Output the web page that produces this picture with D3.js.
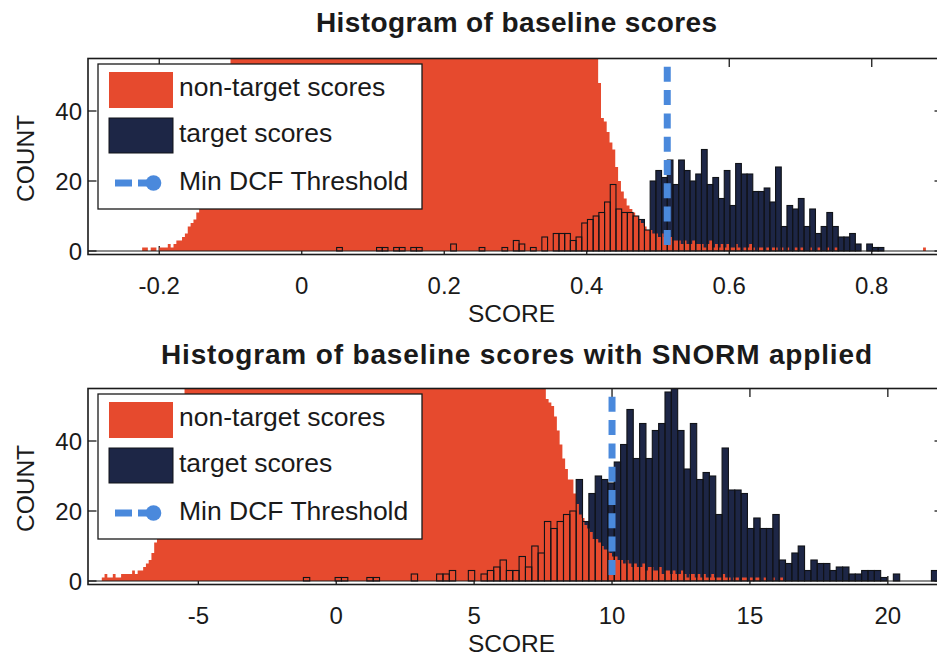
<!DOCTYPE html>
<html>
<head>
<meta charset="utf-8">
<script src="https://cdn.jsdelivr.net/npm/d3@7"></script>
<style>
  html, body { margin: 0; padding: 0; background: #ffffff; }
  svg { display: block; }
  text { font-family: "Liberation Sans", Arial, Helvetica, sans-serif; fill: #1a1a1a; }
</style>
</head>
<body>
<svg id="chart" width="937" height="659"></svg>
<script>
// ---------------- data ----------------
const titles = ["Histogram of baseline scores", "Histogram of baseline scores with SNORM applied"];
const legendLabels = ["non-target scores", "target scores", "Min DCF Threshold"];
const xLabel = "SCORE";
const yLabel = "COUNT";

const yTicks = [0, 20, 40];
const topXTicks = [-0.2, 0, 0.2, 0.4, 0.6, 0.8];
const botXTicks = [-5, 0, 5, 10, 15, 20];

// raw scores: bins start at *Start, each *Width wide
const topNonTargetStart = -0.232, topNonTargetWidth = 0.004;
const topNonTarget = [
  0, 0, 1, 1, 0, 1, 1, 0, 1, 1,
  1, 2, 1, 2, 3, 3, 4, 5, 7, 8,
  9, 11, 13, 15, 18, 21, 24, 27, 31, 35,
  40, 45, 51, 57, 63, 69, 75, 82, 89, 96,
  104, 112, 120, 128, 136, 144, 152, 160, 168, 175,
  182, 189, 196, 202, 208, 214, 219, 224, 229, 233,
  237, 241, 244, 247, 250, 252, 254, 256, 257, 258,
  259, 260, 260, 261, 260, 260, 259, 258, 257, 256,
  254, 252, 250, 248, 245, 242, 239, 236, 232, 228,
  224, 220, 216, 211, 206, 201, 196, 191, 186, 180,
  175, 169, 164, 158, 153, 147, 142, 136, 131, 126,
  121, 116, 111, 107, 103, 99, 95, 92, 89, 86,
  83, 80, 78, 76, 74, 72, 70, 68, 67, 66,
  65, 64, 63, 63, 62, 62, 61, 61, 60, 60,
  60, 59, 59, 59, 58, 58, 58, 58, 57, 57,
  57, 57, 57, 56, 56, 56, 56, 56, 56, 56,
  56, 56, 48, 38, 37, 34, 31, 29, 24, 20,
  17, 15, 13, 12, 11, 10, 9, 8, 7, 6,
  6, 5, 5, 4, 5, 4, 3, 4, 3, 3,
  3, 2, 3, 2, 2, 3, 2, 2, 2, 1,
  2, 3, 1, 2, 1, 2, 1, 2, 1, 1,
  2, 1, 0, 1, 1, 2, 1, 0, 1, 1,
  0, 1, 0, 1, 1, 0, 1, 0, 1, 0,
  0, 1, 0, 1, 0, 0, 1, 0, 0, 1,
  0, 0, 1, 0, 0, 1, 0, 0, 0, 0,
  0, 0, 0, 0, 0, 0, 0, 0, 0, 0,
  0, 0, 0, 0, 0, 0, 0, 0, 0, 0,
  0, 0, 0, 0, 0, 0, 1, 0
];

const topTargetStart = 0.049, topTargetWidth = 0.008;
const topTarget = [
  1, 0, 0, 0, 0, 0, 0, 1, 1, 0,
  1, 1, 0, 1, 1, 0, 0, 0, 0, 0,
  2, 0, 0, 0, 0, 1, 0, 0, 0, 1,
  0, 3, 2, 0, 1, 0, 4, 0, 5, 5,
  5, 3, 4, 8, 9, 10, 11, 14, 19, 12,
  11, 11, 10, 9, 6, 20, 23, 21, 26, 19,
  26, 23, 20, 22, 29, 19, 21, 15, 23, 13,
  25, 22, 22, 17, 17, 18, 14, 24, 7, 13,
  12, 15, 7, 12, 5, 7, 11, 7, 4, 4,
  5, 2, 0, 2, 1, 1
];

// SNORM-normalised scores
const botNonTargetStart = -8.6, botNonTargetWidth = 0.1;
const botNonTarget = [
  0, 1, 2, 1, 1, 2, 1, 1, 2, 2,
  2, 2, 3, 2, 3, 3, 4, 5, 6, 8,
  11, 13, 16, 19, 22, 26, 30, 34, 39, 44,
  50, 56, 62, 68, 74, 80, 86, 92, 98, 104,
  110, 116, 122, 128, 134, 140, 146, 152, 157, 162,
  167, 172, 176, 180, 184, 187, 190, 193, 195, 197,
  199, 200, 201, 202, 202, 203, 203, 203, 202, 202,
  201, 200, 199, 197, 195, 193, 191, 188, 185, 182,
  179, 176, 172, 168, 164, 160, 156, 152, 148, 144,
  140, 136, 132, 128, 124, 120, 116, 112, 108, 105,
  102, 99, 96, 93, 90, 88, 86, 84, 82, 80,
  78, 76, 74, 73, 72, 71, 70, 69, 68, 67,
  66, 65, 64, 64, 63, 63, 62, 62, 61, 61,
  60, 60, 60, 59, 59, 59, 58, 58, 58, 58,
  57, 57, 57, 57, 57, 57, 56, 56, 56, 56,
  56, 56, 56, 56, 56, 56, 56, 56, 56, 56,
  56, 56, 52, 51, 50, 47, 43, 39, 35, 32,
  29, 29, 25, 22, 19, 18, 16, 15, 14, 12,
  12, 11, 10, 9, 9, 8, 7, 7, 6, 6,
  5, 6, 5, 4, 5, 4, 4, 5, 3, 4,
  4, 3, 3, 4, 2, 3, 3, 2, 3, 2,
  2, 3, 2, 1, 2, 2, 1, 2, 1, 2,
  1, 1, 2, 1, 1, 1, 2, 1, 1, 0,
  1, 1, 0, 1, 1, 0, 1, 0, 1, 1,
  0, 1, 0, 0, 1, 0, 0, 1, 0, 0
];

const botTargetStart = -1.19, botTargetWidth = 0.23;
const botTarget = [
  1, 0, 0, 0, 0, 1, 1, 0, 0, 0,
  1, 1, 0, 0, 0, 0, 0, 2, 0, 0,
  0, 2, 2, 3, 0, 0, 3, 0, 2, 3,
  4, 6, 3, 3, 7, 4, 10, 8, 17, 15,
  17, 19, 20, 29, 17, 25, 30, 29, 28, 34,
  39, 49, 35, 45, 35, 43, 45, 54, 57, 43,
  32, 45, 29, 31, 30, 19, 38, 26, 26, 25,
  15, 18, 15, 15, 19, 6, 5, 8, 10, 3,
  6, 5, 5, 3, 4, 4, 2, 2, 3, 3,
  3, 1, 0, 2, 0, 0, 0, 0, 0, 3
];

const minDcfThresholds = [0.513, 10.0];

// ---------------- layout ----------------
const W = 937, H = 659;
const plotL = 88, plotR = 943;
const plotH = 196;
const colors = { nonTarget: "#e64a2e", target: "#1d2646", edge: "#111318", threshold: "#4a89dc", ink: "#1a1a1a" };

const panels = [
  { title: titles[0], titleLen: 401, titleY: 32, top: 58.5, xDomain: [-0.3, 0.9], xTicks: topXTicks,
    nonTarget: { start: topNonTargetStart, width: topNonTargetWidth, counts: topNonTarget },
    target: { start: topTargetStart, width: topTargetWidth, counts: topTarget },
    threshold: minDcfThresholds[0] },
  { title: titles[1], titleLen: 711, titleY: 364, top: 388.5, xDomain: [-9, 22], xTicks: botXTicks,
    nonTarget: { start: botNonTargetStart, width: botNonTargetWidth, counts: botNonTarget },
    target: { start: botTargetStart, width: botTargetWidth, counts: botTarget },
    threshold: minDcfThresholds[1] }
];

const svg = d3.select("#chart");
svg.append("rect").attr("width", W).attr("height", H).attr("fill", "#fff");

function bins(h) {
  return h.counts.map((c, i) => ({ x0: h.start + i * h.width, x1: h.start + (i + 1) * h.width, c }))
                 .filter(d => d.c > 0);
}

panels.forEach((p, pi) => {
  const x = d3.scaleLinear().domain(p.xDomain).range([plotL, plotR]);
  const y = d3.scaleLinear().domain([-1, 55]).range([p.top + plotH, p.top]);
  const g = svg.append("g");

  const clipId = "clip" + pi;
  svg.append("defs").append("clipPath").attr("id", clipId)
    .append("rect").attr("x", plotL).attr("y", p.top).attr("width", plotR - plotL).attr("height", plotH);

  // tick marks (drawn beneath the bars)
  const ticks = g.append("g").attr("stroke", colors.ink).attr("stroke-width", 1.3);
  const tl = 8.5;
  p.xTicks.forEach(t => {
    ticks.append("line").attr("x1", x(t)).attr("x2", x(t)).attr("y1", y(-1)).attr("y2", y(-1) - tl);
    ticks.append("line").attr("x1", x(t)).attr("x2", x(t)).attr("y1", y(55)).attr("y2", y(55) + tl);
  });
  yTicks.forEach(t => {
    ticks.append("line").attr("x1", plotL).attr("x2", plotL + tl).attr("y1", y(t)).attr("y2", y(t));
    ticks.append("line").attr("x1", plotR).attr("x2", plotR - tl).attr("y1", y(t)).attr("y2", y(t));
  });

  const data = g.append("g").attr("clip-path", `url(#${clipId})`);
  const tBins = bins(p.target);
  const nBins = bins(p.nonTarget);
  const barPath = list => list.map(d =>
    `M${x(d.x0)},${y(0)}V${y(d.c)}H${x(d.x1)}V${y(0)}Z`).join("");

  // target bar faces
  data.append("path").attr("d", barPath(tBins)).attr("fill", colors.target);

  // non-target histogram (one path so neighbouring bins join without seams)
  data.append("path").attr("d", barPath(nBins)).attr("fill", colors.nonTarget);

  // target bar edges
  data.append("g").selectAll("rect").data(tBins).join("rect")
    .attr("x", d => x(d.x0)).attr("width", d => x(d.x1) - x(d.x0))
    .attr("y", d => y(d.c)).attr("height", d => y(0) - y(d.c))
    .attr("fill", "none").attr("stroke", colors.edge).attr("stroke-width", 1.1);

  // bar baseline
  data.append("line").attr("x1", plotL).attr("x2", plotR).attr("y1", y(0)).attr("y2", y(0))
    .attr("stroke", colors.ink).attr("stroke-width", 1.2);

  // Min DCF threshold
  data.append("line")
    .attr("x1", x(p.threshold)).attr("x2", x(p.threshold))
    .attr("y1", p.top + 8.3).attr("y2", p.top + 186.6)
    .attr("stroke", colors.threshold).attr("stroke-width", 7)
    .attr("stroke-dasharray", "15,8.3");

  // axes box
  const box = g.append("g").attr("stroke", colors.ink).attr("stroke-width", 1.6).attr("fill", "none");
  box.append("rect").attr("x", plotL).attr("y", p.top).attr("width", plotR - plotL).attr("height", plotH);

  // legend
  const lg = g.append("g").attr("transform", `translate(98,${p.top + 5.5})`);
  lg.append("rect").attr("width", 324).attr("height", 145).attr("fill", "#fff")
    .attr("stroke", colors.ink).attr("stroke-width", 1.3);
  lg.append("rect").attr("x", 11).attr("y", 8).attr("width", 64).attr("height", 36).attr("fill", colors.nonTarget);
  lg.append("rect").attr("x", 11).attr("y", 54).attr("width", 64).attr("height", 35).attr("fill", colors.target)
    .attr("stroke", colors.edge).attr("stroke-width", 1);
  lg.append("line").attr("x1", 17).attr("x2", 34).attr("y1", 119).attr("y2", 119)
    .attr("stroke", colors.threshold).attr("stroke-width", 7);
  lg.append("line").attr("x1", 40).attr("x2", 56).attr("y1", 119).attr("y2", 119)
    .attr("stroke", colors.threshold).attr("stroke-width", 7);
  lg.append("circle").attr("cx", 55.5).attr("cy", 119).attr("r", 7.8).attr("fill", colors.threshold);
  const legY = [32, 77.7, 126];
  legendLabels.forEach((t, i) => {
    lg.append("text").attr("x", 81).attr("y", legY[i]).attr("font-size", 26.5).text(t);
  });

  // tick labels
  p.xTicks.forEach(t => {
    g.append("text").attr("x", x(t)).attr("y", y(-1) + 39.5).attr("text-anchor", "middle")
      .attr("font-size", 24).text(String(t));
  });
  yTicks.forEach(t => {
    g.append("text").attr("x", 82).attr("y", y(t) + 8.6).attr("text-anchor", "end")
      .attr("font-size", 24).text(String(t));
  });

  // axis labels
  g.append("text").attr("x", (plotL + plotR) / 2 - 4).attr("y", y(-1) + 67.5).attr("text-anchor", "middle")
    .attr("font-size", 24.5).text(xLabel);
  g.append("text").attr("transform", `translate(33.5,${p.top + plotH / 2 + 2}) rotate(-90)`)
    .attr("text-anchor", "middle").attr("font-size", 24.5).text(yLabel);

  // title
  g.append("text").attr("x", (plotL + plotR) / 2 + 1).attr("y", p.titleY).attr("text-anchor", "middle")
    .attr("font-size", 28).attr("font-weight", "bold")
    .attr("textLength", p.titleLen).attr("lengthAdjust", "spacing").text(p.title);
});
</script>
</body>
</html>
